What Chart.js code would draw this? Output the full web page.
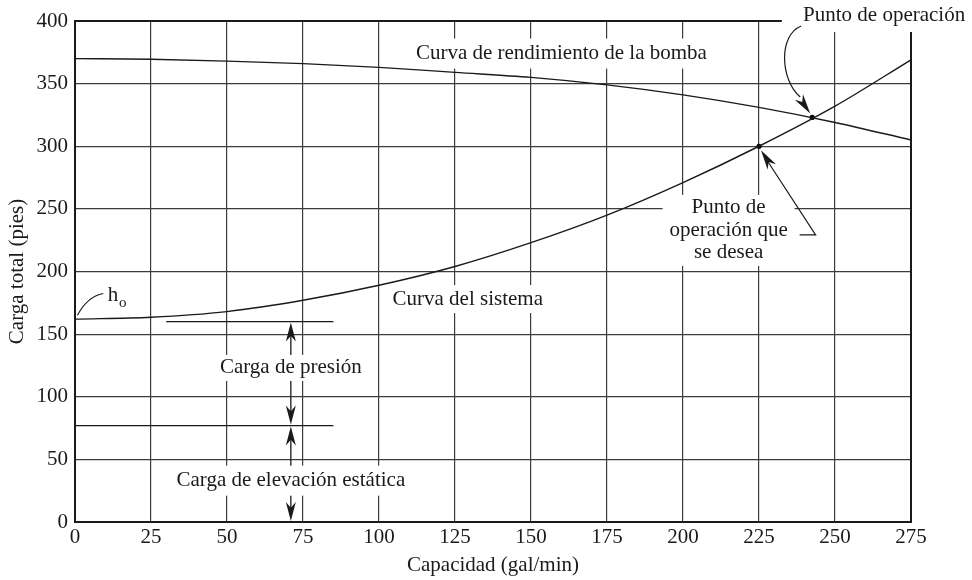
<!DOCTYPE html>
<html>
<head>
<meta charset="utf-8">
<script src="https://cdn.jsdelivr.net/npm/chart.js@4"></script>
<style>
  html,body{margin:0;padding:0;background:#fff}
  canvas{display:block}
</style>
</head>
<body>
<canvas id="c" width="972" height="580"></canvas>
<script>
// datos
const capacidad = [0, 25, 50, 75, 100, 125, 150, 175, 200, 225, 250, 275];
const cargaBomba = [370, 369.5, 368, 366, 363, 359, 355, 349, 341, 331, 319, 305];
const cargaSistema = [162, 163.5, 168, 177, 189, 204, 223, 245, 271, 300, 332, 369];
const puntoOperacion = [242.5, 323];
const puntoDeseado = [225, 300];
const nivelesCarga = [160, 77];   // presión (arriba) y elevación estática
const xFlechas = 71;

const FONT = '"Liberation Serif", "Times New Roman", serif';
const INK = '#1a1a1a';

function line(ctx, x1, y1, x2, y2){
  ctx.beginPath(); ctx.moveTo(x1, y1); ctx.lineTo(x2, y2); ctx.stroke();
}
function arrowHead(ctx, x, y, ang, len, half){
  // punta en (x,y), apuntando en la dirección ang
  const c = Math.cos(ang), s = Math.sin(ang);
  const bx = x - c*len, by = y - s*len;
  ctx.beginPath();
  ctx.moveTo(x, y);
  ctx.lineTo(bx - s*half, by + c*half);
  ctx.lineTo(x - c*len*0.7, y - s*len*0.7);
  ctx.lineTo(bx + s*half, by - c*half);
  ctx.closePath();
  ctx.fill();
}
function label(ctx, txt, x, y, padX, padY){
  const w = ctx.measureText(txt).width;
  ctx.fillStyle = '#fff';
  ctx.fillRect(x - w/2 - padX, y - 10 - padY, w + 2*padX, 20 + 2*padY);
  ctx.fillStyle = INK;
  ctx.fillText(txt, x, y);
}

const anotaciones = {
  id: 'anotaciones',
  beforeDatasetsDraw(chart){
    const {ctx, chartArea: a, scales: {x, y}} = chart;
    const px = v => x.getPixelForValue(v), py = v => y.getPixelForValue(v);
    ctx.save();
    ctx.strokeStyle = INK; ctx.fillStyle = INK;

    // marco
    ctx.lineWidth = 2;
    ctx.strokeRect(a.left, a.top, a.right - a.left, a.bottom - a.top);

    // niveles de carga
    ctx.lineWidth = 1.3;
    line(ctx, px(30), py(nivelesCarga[0]), px(85), py(nivelesCarga[0]));
    line(ctx, a.left, py(nivelesCarga[1]), px(85), py(nivelesCarga[1]));

    // flechas de cota
    const xa = px(xFlechas);
    line(ctx, xa, py(nivelesCarga[0]) + 6, xa, py(nivelesCarga[1]) - 6);
    arrowHead(ctx, xa, py(nivelesCarga[0]) + 1, -Math.PI/2, 19, 5);
    arrowHead(ctx, xa, py(nivelesCarga[1]) - 1, Math.PI/2, 19, 5);
    line(ctx, xa, py(nivelesCarga[1]) + 6, xa, py(0) - 6);
    arrowHead(ctx, xa, py(nivelesCarga[1]) + 1, -Math.PI/2, 19, 5);
    arrowHead(ctx, xa, py(0) - 1, Math.PI/2, 19, 5);

    ctx.font = '21px ' + FONT;
    ctx.textAlign = 'center'; ctx.textBaseline = 'middle';
    label(ctx, 'Curva de rendimiento de la bomba', px(160), py(374), 6, 5);
    label(ctx, 'Curva del sistema', px(129.2), py(178), 6, 4);
    label(ctx, 'Carga de presión', px(xFlechas), py(123), 4, 3);
    label(ctx, 'Carga de elevación estática', px(xFlechas), py(33), 4, 5);

    // bloque "Punto de operación que se desea"
    const bx = px(215), by = py(250);
    ctx.fillStyle = '#fff';
    ctx.fillRect(bx - 66, by - 14, 132, 71);
    ctx.fillStyle = INK;
    ctx.fillText('Punto de', bx, by - 1);
    ctx.fillText('operación que', bx, by + 22);
    ctx.fillText('se desea', bx, by + 44);

    // "Punto de operación" fuera del marco
    ctx.fillStyle = '#fff';
    ctx.fillRect(px(232.5), 0, chart.width - px(232.5), a.top + 11);
    ctx.fillStyle = INK;
    ctx.textAlign = 'left';
    ctx.fillText('Punto de operación', px(239.5), 15);

    // h_o
    ctx.fillText('h', px(10.8), py(181));
    ctx.font = '15px ' + FONT;
    ctx.fillText('o', px(14.5), py(174.5));
    ctx.lineWidth = 1.1;
    ctx.beginPath();
    ctx.moveTo(px(0.8), py(165));
    ctx.quadraticCurveTo(px(4), py(180), px(9.3), py(182.5));
    ctx.stroke();

    // flecha al punto de operación (curva)
    const ox = px(puntoOperacion[0]), oy = py(puntoOperacion[1]);
    ctx.lineWidth = 1.2;
    ctx.beginPath();
    ctx.moveTo(ox - 11, 26);
    ctx.bezierCurveTo(ox - 34, 35, ox - 32, 80, ox - 12, 97);
    ctx.stroke();
    arrowHead(ctx, ox - 2, oy - 4, Math.atan2(16, 11), 20, 5);

    // flecha al punto deseado
    const dx = px(puntoDeseado[0]), dy = py(puntoDeseado[1]);
    ctx.beginPath();
    ctx.moveTo(bx + 71, by + 26);
    ctx.lineTo(bx + 87, by + 26);
    ctx.lineTo(dx + 8, dy + 14);
    ctx.stroke();
    arrowHead(ctx, dx + 2, dy + 4, Math.atan2(by + 26 - dy - 4, bx + 87 - dx - 2) + Math.PI, 20, 5);

    ctx.restore();
  }
};

const asPoints = (xs, ys) => xs.map((v, i) => ({x: v, y: ys[i]}));

new Chart(document.getElementById('c'), {
  type: 'line',
  data: {
    datasets: [
      { data: asPoints(capacidad, cargaBomba), borderColor: INK, borderWidth: 1.4,
        pointRadius: 0, cubicInterpolationMode: 'monotone', fill: false },
      { data: asPoints(capacidad, cargaSistema), borderColor: INK, borderWidth: 1.4,
        pointRadius: 0, cubicInterpolationMode: 'monotone', fill: false },
      { type: 'scatter', data: [{x: puntoOperacion[0], y: puntoOperacion[1]}, {x: puntoDeseado[0], y: puntoDeseado[1]}],
        pointRadius: 2.6, backgroundColor: '#000', borderWidth: 0 }
    ]
  },
  options: {
    responsive: false,
    animation: false,
    devicePixelRatio: 1,
    layout: { padding: { top: 21, right: 61 } },
    plugins: { legend: { display: false }, tooltip: { enabled: false } },
    scales: {
      x: {
        type: 'linear', min: 0, max: 275,
        ticks: { stepSize: 25, color: INK, padding: 3, font: { family: FONT, size: 21 } },
        grid: { color: '#3c3c3c', lineWidth: 1.2, drawTicks: false },
        border: { display: false },
        title: { display: true, text: 'Capacidad (gal/min)', color: INK,
                 font: { family: FONT, size: 21 }, padding: { top: 0, bottom: 2 } },
        afterFit: s => { s.height = 58; }
      },
      y: {
        min: 0, max: 400,
        ticks: { stepSize: 50, color: INK, padding: 7, font: { family: FONT, size: 21 } },
        grid: { color: '#3c3c3c', lineWidth: 1.2, drawTicks: false },
        border: { display: false },
        title: { display: true, text: 'Carga total (pies)', color: INK,
                 font: { family: FONT, size: 21 }, padding: { top: 5, bottom: 0 } },
        afterFit: s => { s.width = 75; }
      }
    }
  },
  plugins: [anotaciones]
});
</script>
</body>
</html>
